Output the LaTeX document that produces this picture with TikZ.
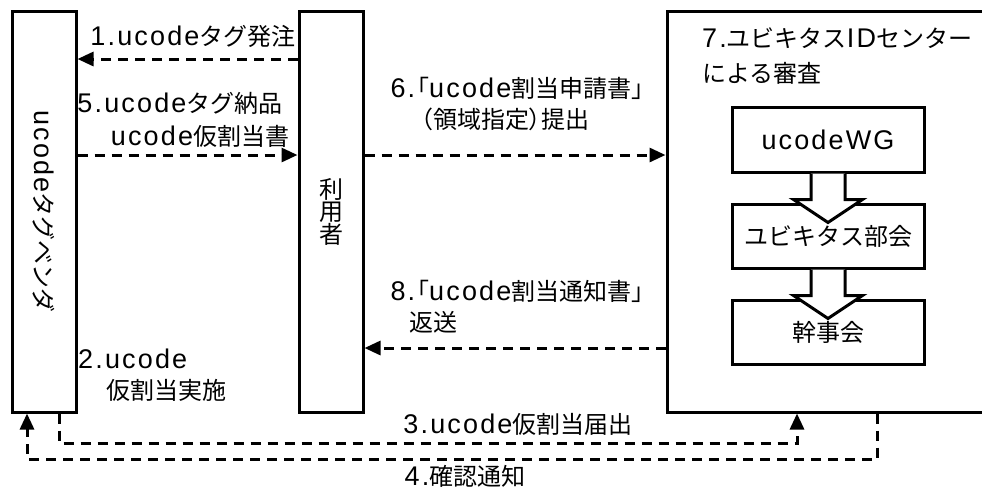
\documentclass[tikz,border=0pt]{standalone}
\usepackage{fontspec}
\setmainfont{Noto Sans CJK JP}
\newfontfamily\latfont[LetterSpace=8]{Liberation Sans}
\newfontfamily\pfont[RawFeature=+palt]{Noto Sans CJK JP}
\usetikzlibrary{arrows.meta,calc}
\newcommand\U[1]{{\latfont\fontsize{27}{28}\selectfont #1}}
\newcommand\Pn[1]{{\pfont #1}}
\tikzset{
  box/.style={draw, line width=3pt, inner sep=0pt},
  dl/.style={line width=3pt, dash pattern=on 10pt off 7pt},
  dla/.style={dl, -{Triangle[length=16pt,width=14pt]}},
  lbl/.style={inner sep=0pt, anchor=base},
  lblw/.style={inner sep=0pt, anchor=base west},
  blockarrow/.style={draw, fill=white, line width=3pt, line join=miter}
}
\begin{document}
\begin{tikzpicture}[x=1pt,y=-1pt,font=\fontsize{24}{28}\selectfont]
\useasboundingbox (0,0) rectangle (982,491);
\clip (0,0) rectangle (982,491);
% main boxes
\node[box, minimum width=64pt, minimum height=401pt] (vendor) at (44,211.5) {};
\node[rotate=-90, inner sep=0pt] (vlabel) at (vendor.center) {\U{ucode}タグベンダ};
\node[box, minimum width=64pt, minimum height=401pt] (user) at (331,211.5) {};
\node[align=center, inner sep=0pt, font=\fontsize{24}{22}\selectfont] (ulabel) at (331,212) {利\\用\\者};
\node[box, minimum width=333pt, minimum height=401pt] (center) at (833.5,211.5) {};
\node[box, minimum width=192pt, minimum height=65pt] (wg) at (828,139.5) {\U{ucodeWG}};
\node[box, minimum width=192pt, minimum height=64pt] (bukai) at (828,236) {ユビキタス部会};
\node[box, minimum width=192pt, minimum height=64pt] (kanji) at (828,332) {幹事会};
% block arrows
\draw[blockarrow] ([xshift=-17pt]wg.south) -- ++(0,26) -- ++(-17.5,0) -- ++(34.5,23) -- ++(34.5,-23) -- ++(-17.5,0) -- ++(0,-26);
\draw[blockarrow] ([xshift=-17pt]bukai.south) -- ++(0,26) -- ++(-17.5,0) -- ++(34.5,23) -- ++(34.5,-23) -- ++(-17.5,0) -- ++(0,-26);
% levels
\coordinate (y1) at (0,59);
\coordinate (y5) at (0,155);
\coordinate (y8) at (0,348);
\coordinate (c3a) at (59,443);
\coordinate (c3b) at (797,443);
\coordinate (c4a) at (877,459);
\coordinate (c4b) at (27,459);
% connectors
\draw[dla] (user.west |- y1) -- (vendor.east |- y1);
\draw[dla] (vendor.east |- y5) -- (user.west |- y5);
\draw[dla] (user.east |- y5) -- (center.west |- y5);
\draw[dla] (center.west |- y8) -- (user.east |- y8);
\draw[dla] (vendor.south -| c3a) -- (c3a) -- (c3b) -- (center.south -| c3b);
\draw[dla] (center.south -| c4a) -- (c4a) -- (c4b) -- (vendor.south -| c4b);
% labels
\node[lbl] (l1) at (193,45) {\U{1.ucode}タグ発注};
\node[lbl] (l5a) at (180,112) {\U{5.ucode}タグ納品};
\node[lbl] (l5b) at (200,145) {\U{ucode}仮割当書};
\node[lbl] (l6a) at (517,97) {\U{6.}\hspace{2pt}\Pn{「}\U{ucode}割当申請書\Pn{」}};
\node[lbl] (l6b) at (505,128) {\Pn{（}領域指定\Pn{）}提出};
\node[lbl] (l8a) at (517,300) {\U{8.}\hspace{2pt}\Pn{「}\U{ucode}割当通知書\Pn{」}};
\node[lblw] (l8b) at (409,331) {返送};
\node[lblw] (l2a) at (78,368) {\U{2.ucode}};
\node[lblw] (l2b) at (106,399) {仮割当実施};
\node[lbl] (l3) at (518,433) {\U{3.ucode}仮割当届出};
\node[lbl] (l4) at (465,485) {\U{4.}確認通知};
\node[lblw] (l7a) at (702,47) {\U{7.}ユビキタス\U{ID}センター};
\node[lblw] (l7b) at (702,82) {による審査};
\end{tikzpicture}
\end{document}
